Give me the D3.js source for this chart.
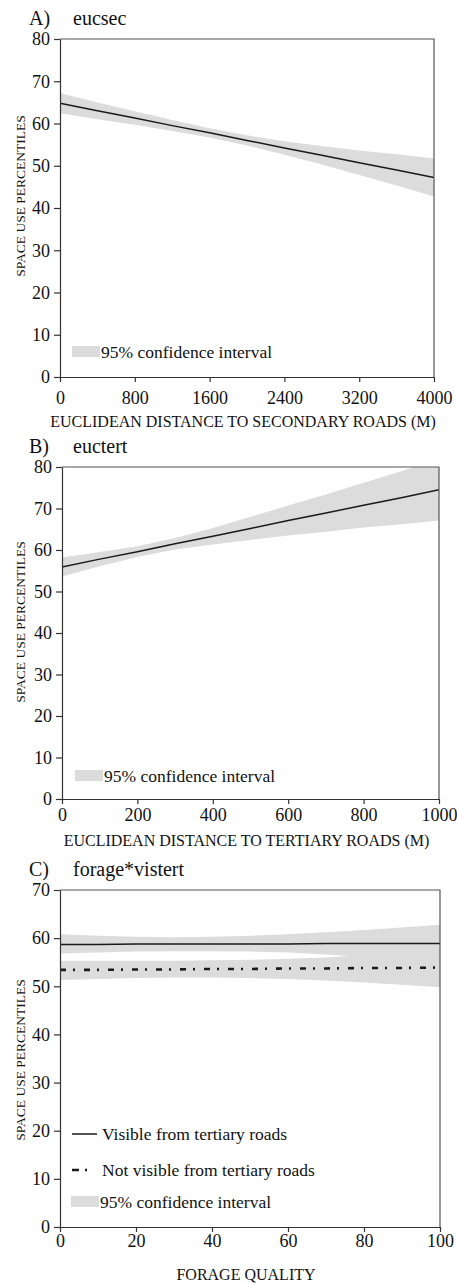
<!DOCTYPE html>
<html>
<head>
<meta charset="utf-8">
<script src="https://cdn.jsdelivr.net/npm/d3@7"></script>
<style>
  body { margin: 0; background: #fff; }
  svg text { font-family: "Liberation Serif", "Times New Roman", "DejaVu Serif", serif; fill: #111; }
</style>
</head>
<body>
<svg id="chart" width="457" height="1283"></svg>
<script>
//~~~~~~~~~~~~~~~~~~DATA
// panel A: euclidean distance to secondary roads
let distSec = [0, 400, 800, 1200, 1600, 2000, 2400, 2800, 3200, 3600, 4000];
let fitSec = [64.8, 63.0, 61.3, 59.5, 57.8, 56.0, 54.2, 52.5, 50.7, 49.0, 47.2];
let lowSec = [62.4, 61.0, 59.7, 58.2, 56.7, 54.8, 52.6, 50.3, 47.8, 45.3, 42.7];
let highSec = [67.2, 65.0, 62.9, 60.8, 58.9, 57.2, 55.8, 54.7, 53.6, 52.7, 51.7];
let ticksSec = [0, 800, 1600, 2400, 3200, 4000];

// panel B: euclidean distance to tertiary roads
let distTert = [0, 100, 200, 300, 400, 500, 600, 700, 800, 900, 1000];
let fitTert = [55.9, 57.8, 59.6, 61.5, 63.3, 65.2, 67.1, 68.9, 70.8, 72.6, 74.5];
let lowTert = [53.6, 56.1, 58.3, 60.1, 61.3, 62.4, 63.5, 64.4, 65.4, 66.2, 67.1];
let highTert = [58.2, 59.5, 60.9, 62.9, 65.3, 68.0, 70.7, 73.4, 76.2, 79.0, 81.9];
let ticksTert = [0, 200, 400, 600, 800, 1000];

// panel C: forage quality, visible / not visible from tertiary roads
let forage = [0, 10, 20, 30, 40, 50, 60, 70, 80, 90, 100];
let fitVis = [58.7, 58.7, 58.8, 58.8, 58.8, 58.8, 58.8, 58.9, 58.9, 58.9, 58.9];
let lowVis = [56.8, 57.0, 57.2, 57.3, 57.3, 57.2, 57.0, 56.6, 56.1, 55.6, 55.0];
let highVis = [60.8, 60.5, 60.3, 60.2, 60.3, 60.5, 60.8, 61.2, 61.7, 62.2, 62.8];
let fitNot = [53.4, 53.4, 53.5, 53.5, 53.6, 53.6, 53.7, 53.7, 53.8, 53.8, 53.9];
let lowNot = [51.3, 51.5, 51.7, 51.8, 51.8, 51.7, 51.5, 51.2, 50.8, 50.3, 49.8];
let highNot = [55.3, 55.3, 55.3, 55.3, 55.4, 55.5, 55.7, 56.0, 56.5, 57.2, 58.0];
let ticksForage = [0, 20, 40, 60, 80, 100];

let yLabel = 'SPACE USE PERCENTILES';
let bandColor = '#dcdcdc';

let svg = d3.select('#chart');

//~~~~~~~~~~~~~~~~~~ONE PANEL
function drawPanel(p, idx) {
  let x = d3.scaleLinear().domain(p.xDomain).range([p.left, p.right]);
  let y = d3.scaleLinear().domain(p.yDomain).range([p.bottom, p.top]);

  let g = svg.append('g');

  // clip so bands don't spill above the frame
  g.append('clipPath').attr('id', 'clip' + idx)
    .append('rect')
    .attr('x', p.left).attr('y', p.top)
    .attr('width', p.right - p.left).attr('height', p.bottom - p.top);

  let area = d3.area()
    .x(function(d) { return x(d.x); })
    .y0(function(d) { return y(d.lo); })
    .y1(function(d) { return y(d.hi); });

  let line = d3.line()
    .x(function(d) { return x(d.x); })
    .y(function(d) { return y(d.fit); });

  let plot = g.append('g').attr('clip-path', 'url(#clip' + idx + ')');

  p.series.forEach(function(s) {
    let rows = p.xs.map(function(v, i) {
      return { x: v, fit: s.fit[i], lo: s.lo[i], hi: s.hi[i] };
    });
    plot.append('path').datum(rows)
      .attr('d', area)
      .attr('fill', bandColor);
    s.rows = rows;
  });
  p.series.forEach(function(s) {
    plot.append('path').datum(s.rows)
      .attr('d', line)
      .attr('fill', 'none')
      .attr('stroke', '#1a1a1a')
      .attr('stroke-width', s.width)
      .attr('stroke-dasharray', s.dash || null);
  });

  // frame (top + right)
  g.append('path')
    .attr('d', 'M' + p.left + ',' + p.top + 'H' + p.right + 'V' + p.bottom)
    .attr('fill', 'none').attr('stroke', '#555').attr('stroke-width', 1.2);

  // axes
  let yAxis = g.append('g')
    .attr('transform', 'translate(' + p.left + ',0)')
    .call(d3.axisLeft(y).ticks(p.yDomain[1] / 10).tickSize(6).tickPadding(4).tickSizeOuter(0));
  let xAxis = g.append('g')
    .attr('transform', 'translate(0,' + p.bottom + ')')
    .call(d3.axisBottom(x).tickValues(p.xTicks).tickFormat(d3.format('d'))
      .tickSize(5).tickPadding(p.tickPad).tickSizeOuter(0));

  [yAxis, xAxis].forEach(function(a) {
    a.attr('font-family', null).attr('font-size', null);
    a.select('.domain').attr('stroke', '#333').attr('stroke-width', 1.2);
    a.selectAll('.tick line').attr('stroke', '#333').attr('stroke-width', 1.2);
    a.selectAll('.tick text').style('font-size', '18px').attr('fill', '#111');
  });

  // titles
  g.append('text')
    .attr('x', 29).attr('y', p.top - 14)
    .style('font-size', '20px')
    .text(p.letter);
  g.append('text')
    .attr('x', 73).attr('y', p.top - 14)
    .style('font-size', '20px')
    .text(p.name);

  g.append('text')
    .attr('x', (p.left + p.right) / 2 - 4).attr('y', p.bottom + p.titleGap)
    .attr('text-anchor', 'middle')
    .style('font-size', '16px')
    .text(p.xTitle);

  g.append('text')
    .attr('transform', 'translate(25,' + p.yTitleMid + ') rotate(-90)')
    .attr('text-anchor', 'middle')
    .style('font-size', '13.5px')
    .text(yLabel);

  // legend
  let ly = p.legendY;
  p.legend.forEach(function(item) {
    if (item.type === 'band') {
      g.append('rect')
        .attr('x', p.legendX - 1).attr('y', ly - 6)
        .attr('width', 28).attr('height', 11)
        .attr('fill', bandColor);
    } else {
      g.append('line')
        .attr('x1', p.legendX).attr('x2', p.legendX + 25)
        .attr('y1', ly).attr('y2', ly)
        .attr('stroke', '#1a1a1a')
        .attr('stroke-width', item.width)
        .attr('stroke-dasharray', item.dash || null);
    }
    g.append('text')
      .attr('x', p.legendX + (item.type === 'band' ? 28 : 30)).attr('y', ly + 6)
      .style('font-size', '17.5px')
      .text(item.label);
    ly += item.step || 0;
  });
}

//~~~~~~~~~~~~~~~~~~PANELS
drawPanel({
  letter: 'A)', name: 'eucsec',
  left: 60, right: 434, top: 39, bottom: 377,
  xDomain: [0, 4000], yDomain: [0, 80], xTicks: ticksSec, tickPad: 9,
  xs: distSec,
  series: [{ fit: fitSec, lo: lowSec, hi: highSec, width: 1.5 }],
  xTitle: 'EUCLIDEAN DISTANCE TO SECONDARY ROADS (M)', titleGap: 50,
  yTitleMid: 196,
  legendX: 73, legendY: 352,
  legend: [{ type: 'band', label: '95% confidence interval' }]
}, 0);

drawPanel({
  letter: 'B)', name: 'euctert',
  left: 62, right: 439, top: 467, bottom: 799,
  xDomain: [0, 1000], yDomain: [0, 80], xTicks: ticksTert, tickPad: 4,
  xs: distTert,
  series: [{ fit: fitTert, lo: lowTert, hi: highTert, width: 1.5 }],
  xTitle: 'EUCLIDEAN DISTANCE TO TERTIARY ROADS (M)', titleGap: 47,
  yTitleMid: 622,
  legendX: 76, legendY: 776,
  legend: [{ type: 'band', label: '95% confidence interval' }]
}, 1);

drawPanel({
  letter: 'C)', name: 'forage*vistert',
  left: 60, right: 440, top: 890, bottom: 1227,
  xDomain: [0, 100], yDomain: [0, 70], xTicks: ticksForage, tickPad: 2,
  xs: forage,
  series: [
    { fit: fitVis, lo: lowVis, hi: highVis, width: 1.5 },
    { fit: fitNot, lo: lowNot, hi: highNot, width: 2.6, dash: '6,7,2,9' }
  ],
  xTitle: 'FORAGE QUALITY', titleGap: 53,
  yTitleMid: 1060,
  legendX: 72, legendY: 1134,
  legend: [
    { type: 'line', label: 'Visible from tertiary roads', width: 1.5, step: 36 },
    { type: 'line', label: 'Not visible from tertiary roads', width: 2.6, dash: '7,6,2,20', step: 32 },
    { type: 'band', label: '95% confidence interval' }
  ]
}, 2);
</script>
</body>
</html>
